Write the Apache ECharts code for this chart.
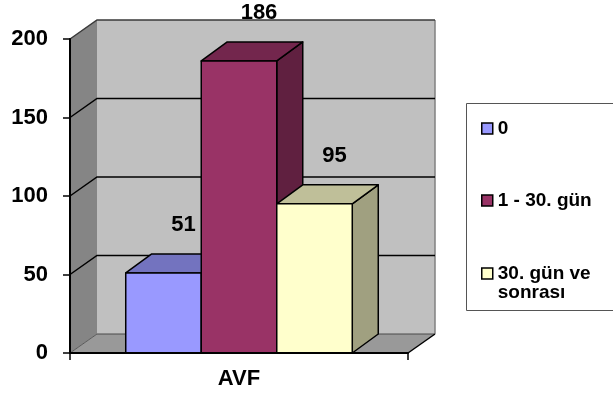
<!DOCTYPE html>
<html>
<head>
<meta charset="utf-8">
<script src="https://cdn.jsdelivr.net/npm/echarts@6/dist/echarts.min.js"></script>
<style>
  html, body { margin: 0; padding: 0; background: #ffffff; }
  #chart { width: 613px; height: 396px; }
</style>
</head>
<body>
<div id="chart"></div>
<script>
// Chart data
const categories = ['AVF'];
const seriesNames = ['0', '1 - 30. gün', '30. gün ve sonrası'];
const valuesZero = [51];
const valuesFirstMonth = [186];
const valuesAfterMonth = [95];
const yTicks = [0, 50, 100, 150, 200];

const seriesValues = [valuesZero, valuesFirstMonth, valuesAfterMonth];

// Face colours for each box: front, top, side
const faceColors = [
  { front: '#9999FF', top: '#7373BF', side: '#5C5C99' },
  { front: '#993366', top: '#73264D', side: '#602040' },
  { front: '#FFFFCC', top: '#BFBF99', side: '#A0A080' }
];

const FONT = "'Liberation Sans', Arial, sans-serif";
const WALL_DX = 27, WALL_DY = -19;   // depth of the 3D walls
const BAR_DX = 26, BAR_DY = -19;     // depth of each box
const BAR_FRAC = 0.2234;             // box width as a share of the category band
const LABEL_DX = -6, LABEL_DY = -29; // value label offset from the top-back edge

const chart = echarts.init(document.getElementById('chart'), null, { renderer: 'canvas' });

function wallsRender(params, api) {
  const c0 = api.coord([0, 0]);
  const band = api.size([1, 0])[0];
  const x0 = c0[0] - band / 2;
  const x1 = c0[0] + band / 2;
  const yOf = v => api.coord([0, v])[1];
  const yb = yOf(yTicks[0]);
  const yt = yOf(yTicks[yTicks.length - 1]);
  const children = [];
  // side wall
  children.push({ type: 'polygon', shape: { points: [[x0, yb], [x0, yt], [x0 + WALL_DX, yt + WALL_DY], [x0 + WALL_DX, yb + WALL_DY]] },
    style: { fill: '#858585' } });
  // back wall
  children.push({ type: 'polygon', shape: { points: [[x0 + WALL_DX, yt + WALL_DY], [x1 + WALL_DX, yt + WALL_DY], [x1 + WALL_DX, yb + WALL_DY], [x0 + WALL_DX, yb + WALL_DY]] },
    style: { fill: '#C0C0C0' } });
  // floor
  children.push({ type: 'polygon', shape: { points: [[x0, yb], [x1, yb], [x1 + WALL_DX, yb + WALL_DY], [x0 + WALL_DX, yb + WALL_DY]] },
    style: { fill: '#999999' } });
  // back wall bottom and right edges
  children.push({ type: 'polyline', shape: { points: [[x0 + WALL_DX, yb + WALL_DY], [x1 + WALL_DX, yb + WALL_DY]] },
    style: { stroke: '#4a4a4a', lineWidth: 1.2, fill: null } });
  children.push({ type: 'polyline', shape: { points: [[x1 + WALL_DX, yt + WALL_DY], [x1 + WALL_DX, yb + WALL_DY]] },
    style: { stroke: '#808080', lineWidth: 1.5, fill: null } });
  // floor diagonals
  children.push({ type: 'polyline', shape: { points: [[x0, yb], [x0 + WALL_DX, yb + WALL_DY]] },
    style: { stroke: '#5a5a5a', lineWidth: 1, fill: null } });
  children.push({ type: 'polyline', shape: { points: [[x1, yb], [x1 + WALL_DX, yb + WALL_DY]] },
    style: { stroke: '#000000', lineWidth: 1.5, fill: null } });
  // grid lines across side and back walls
  yTicks.slice(1).forEach(v => {
    const y = yOf(v);
    children.push({ type: 'polyline', shape: { points: [[x0, y], [x0 + WALL_DX, y + WALL_DY], [x1 + WALL_DX, y + WALL_DY]] },
      style: { stroke: v === yTicks[yTicks.length - 1] ? '#3a3a3a' : '#000000', lineWidth: 1.5, fill: null } });
  });
  return { type: 'group', children };
}

function boxRender(index) {
  return function (params, api) {
    const cat = api.value(0);
    const val = api.value(1);
    const top = api.coord([cat, val]);
    const base = api.coord([cat, 0]);
    const band = api.size([1, 0])[0];
    const bw = band * BAR_FRAC;
    const left = top[0] - 1.5 * bw + index * bw;
    const right = left + bw;
    const ty = top[1];
    const by = base[1];
    const col = faceColors[index];
    const edge = { stroke: '#000000', lineWidth: 1.5, lineJoin: 'round' };
    return {
      type: 'group',
      children: [
        { type: 'polygon', shape: { points: [[right, ty], [right + BAR_DX, ty + BAR_DY], [right + BAR_DX, by + BAR_DY], [right, by]] },
          style: Object.assign({ fill: col.side }, edge) },
        { type: 'polygon', shape: { points: [[left, ty], [right, ty], [right + BAR_DX, ty + BAR_DY], [left + BAR_DX, ty + BAR_DY]] },
          style: Object.assign({ fill: col.top }, edge) },
        { type: 'rect', shape: { x: left, y: ty, width: bw, height: by - ty },
          style: Object.assign({ fill: col.front }, edge) },
        { type: 'text', z2: 100,
          style: { text: String(val), x: left + bw / 2 + BAR_DX + LABEL_DX, y: ty + BAR_DY + LABEL_DY,
            align: 'center', verticalAlign: 'middle', fill: '#000000',
            font: 'bold 22px ' + FONT } }
      ]
    };
  };
}

const legendTops = [119, 191, 245];
const legends = seriesNames.map((name, i) => ({
  data: [name],
  left: 481,
  top: legendTops[i],
  orient: 'vertical',
  padding: 0,
  itemGap: 0,
  itemWidth: 11,
  itemHeight: 11,
  icon: 'rect',
  selectedMode: false,
  itemStyle: { borderColor: '#000000', borderWidth: 1.5 },
  textStyle: { fontFamily: FONT, fontWeight: 'bold', fontSize: 19, color: '#000000', lineHeight: 19 },
  formatter: n => (n === '30. gün ve sonrası' ? '\n30. gün ve\nsonrası' : n)
}));

const option = {
  backgroundColor: '#ffffff',
  animation: false,
  grid: { left: 70, right: 205, top: 39, bottom: 43 },
  xAxis: {
    type: 'category',
    data: categories,
    z: 10,
    boundaryGap: true,
    axisLine: { show: true, lineStyle: { color: '#000000', width: 2 } },
    axisTick: { show: true, length: 7, lineStyle: { color: '#000000', width: 1.5 } },
    axisLabel: { margin: 15, color: '#000000', fontFamily: FONT, fontWeight: 'bold', fontSize: 22 },
    splitLine: { show: false }
  },
  yAxis: {
    type: 'value',
    min: 0,
    max: 200,
    interval: 50,
    z: 10,
    axisLine: { show: true, lineStyle: { color: '#000000', width: 2 } },
    axisTick: { show: true, length: 7, lineStyle: { color: '#000000', width: 1.5 } },
    axisLabel: { margin: 22, color: '#000000', fontFamily: FONT, fontWeight: 'bold', fontSize: 22 },
    splitLine: { show: false }
  },
  legend: legends,
  graphic: [{
    type: 'rect', silent: true,
    shape: { x: 466.5, y: 103.5, width: 160, height: 207 },
    style: { fill: null, stroke: '#555555', lineWidth: 1 }
  }],
  series: [
    {
      type: 'custom', name: 'walls', z: 1, silent: true,
      renderItem: wallsRender,
      data: [[0, 0]],
      encode: { x: 0, y: 1 }
    }
  ].concat(seriesNames.map((name, i) => ({
    type: 'custom',
    name: name,
    z: 2 + i,
    itemStyle: { color: faceColors[i].front },
    renderItem: boxRender(i),
    encode: { x: 0, y: 1 },
    data: seriesValues[i].map((v, k) => [k, v])
  })))
};

chart.setOption(option);
</script>
</body>
</html>
